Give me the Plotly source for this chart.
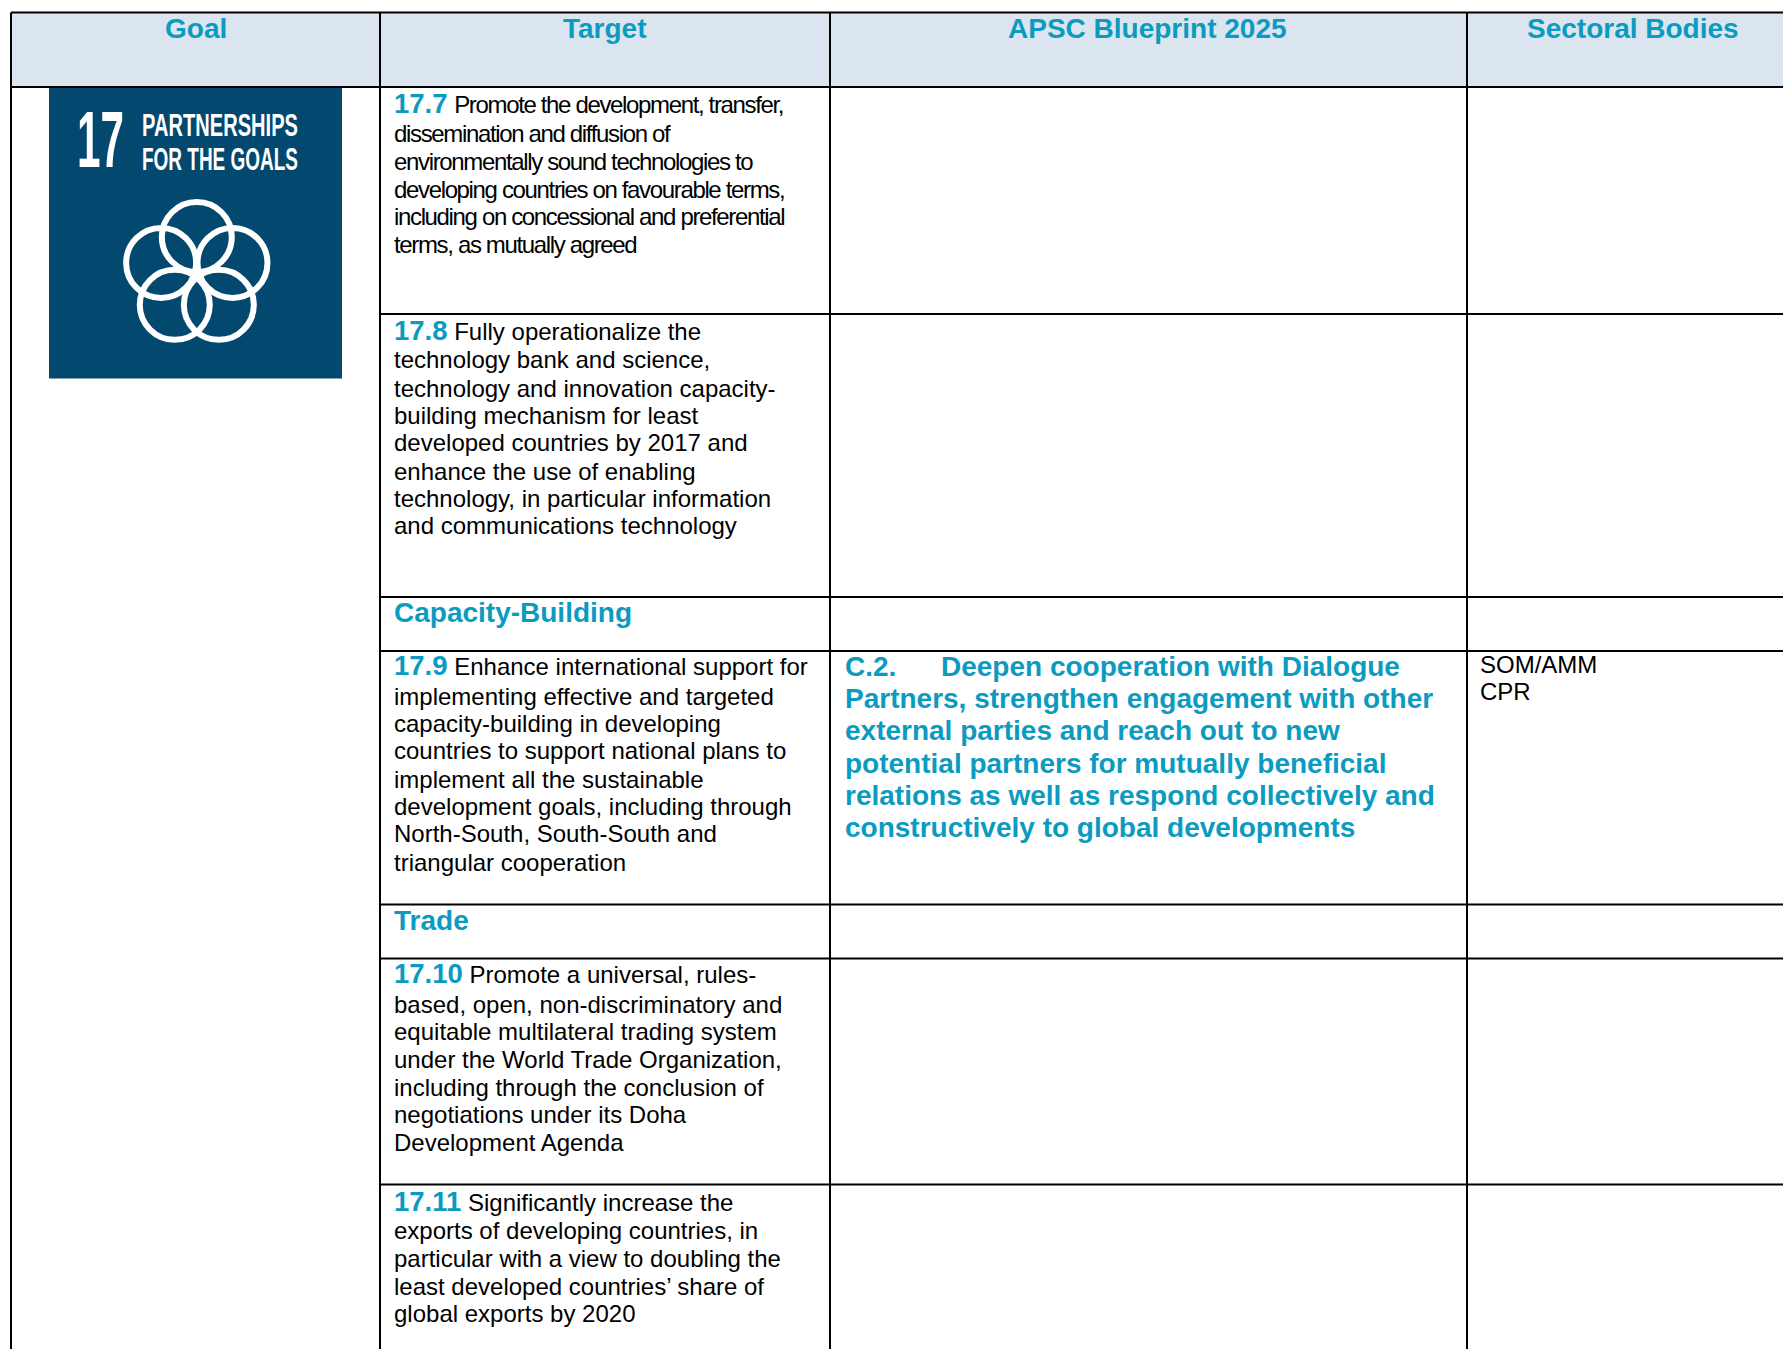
import math
import plotly.graph_objects as go

# ---------- content ----------
headers = ["Goal", "Target", "APSC Blueprint 2025", "Sectoral Bodies"]
target_17_7 = ["Promote the development, transfer,", "dissemination and diffusion of",
               "environmentally sound technologies to", "developing countries on favourable terms,",
               "including on concessional and preferential", "terms, as mutually agreed"]
target_17_8 = ["Fully operationalize the", "technology bank and science,",
               "technology and innovation capacity-", "building mechanism for least",
               "developed countries by 2017 and", "enhance the use of enabling",
               "technology, in particular information", "and communications technology"]
target_17_9 = ["Enhance international support for", "implementing effective and targeted",
               "capacity-building in developing", "countries to support national plans to",
               "implement all the sustainable", "development goals, including through",
               "North-South, South-South and", "triangular cooperation"]
target_17_10 = ["Promote a universal, rules-", "based, open, non-discriminatory and",
                "equitable multilateral trading system", "under the World Trade Organization,",
                "including through the conclusion of", "negotiations under its Doha",
                "Development Agenda"]
target_17_11 = ["Significantly increase the", "exports of developing countries, in",
                "particular with a view to doubling the", "least developed countries\u2019 share of",
                "global exports by 2020"]
blueprint_c2 = ["Deepen cooperation with Dialogue", "Partners, strengthen engagement with other",
                "external parties and reach out to new", "potential partners for mutually beneficial",
                "relations as well as respond collectively and", "constructively to global developments"]
sectoral = ["SOM/AMM", "CPR"]

# ---------- layout (pixels of the page) ----------
W, H = 1783, 1349
TEAL, BLACK, HEAD, NAVY = "#0b9bc0", "#000000", "#dae5f0", "#03486f"
FONT = "Liberation Sans"
col_x = [11, 380, 830, 1467, W]
row_y = [12.5, 87, 314, 597, 651, 904.5, 958.5, 1184.5, H]
TX = 394
BODY = 24
UP = 1.0

fig = go.Figure(go.Scatter(x=[None], y=[None], hoverinfo="skip", showlegend=False))
shapes, ann = [], []


def text(x, y, s, size=BODY, color=BLACK, anchor="left", bold=False, family=FONT):
    ann.append(dict(x=x, y=y - UP, xref="x", yref="y", text=f"<b>{s}</b>" if bold else s,
                    showarrow=False, xanchor=anchor, yanchor="middle", align="left",
                    borderpad=0, borderwidth=0,
                    font=dict(family=family, size=size, color=color)))


def lab(num):
    return f'<b><span style="color:{TEAL};font-size:27.5px">{num}</span></b> '


def block(num, lines, ys, spacing=None):
    for i, (ln, y) in enumerate(zip(lines, ys)):
        s = ln if spacing is None else f'<span style="letter-spacing:{spacing}px">{ln}</span>'
        text(TX, y - 1 if i == 0 else y, (lab(num) + s) if i == 0 else s)


# header band
shapes.append(dict(type="rect", x0=col_x[0], x1=W, y0=row_y[0], y1=row_y[1],
                   fillcolor=HEAD, line_width=0, layer="below", xref="x", yref="y"))
# icon
shapes.append(dict(type="rect", x0=49, x1=342, y0=row_y[1], y1=378.5,
                   fillcolor=NAVY, line_width=0, layer="below", xref="x", yref="y"))
cx, cy, dist, rad = 196.8, 274.5, 37.5, 35
for k in range(5):
    a = math.radians(-90 + 72 * k)
    px, py = cx + dist * math.cos(a), cy + dist * math.sin(a)
    shapes.append(dict(type="circle", x0=px - rad, x1=px + rad, y0=py - rad, y1=py + rad,
                       line=dict(color="white", width=6), fillcolor="rgba(0,0,0,0)",
                       xref="x", yref="y"))
text(76.5, 140, "17", size=80, color="white", bold=True)
text(141.5, 125.5, "PARTNERSHIPS", size=32, color="white", bold=True)
text(141.5, 159.5, "FOR THE GOALS", size=32, color="white", bold=True)

# grid
LW = 2
for x in col_x[:-1]:
    shapes.append(dict(type="line", x0=x, x1=x, y0=row_y[0], y1=H, xref="x", yref="y",
                       line=dict(color=BLACK, width=LW)))
for y in row_y[:2]:
    shapes.append(dict(type="line", x0=col_x[0], x1=W, y0=y, y1=y, xref="x", yref="y",
                       line=dict(color=BLACK, width=LW)))
for y in row_y[2:-1]:
    shapes.append(dict(type="line", x0=col_x[1], x1=W, y0=y, y1=y, xref="x", yref="y",
                       line=dict(color=BLACK, width=LW)))

# headers
for h, x in zip(headers, [195.6, 605, 1147.5, 1633]):
    text(x, 29.5, h, size=28, color=TEAL, anchor="center", bold=True)

# targets
block("17.7", target_17_7, [105, 134.5, 162.7, 190, 217, 245], spacing=-1.35)
block("17.8", target_17_8, [332, 360.5, 389, 416, 443.5, 472, 499, 526.5])
text(TX, 613, "Capacity-Building", size=28, color=TEAL, bold=True)
block("17.9", target_17_9, [667.5, 697, 724, 751.6, 780, 807, 834.6, 863])
text(TX, 921, "Trade", size=28, color=TEAL, bold=True)
block("17.10", target_17_10, [975.6, 1005, 1032.5, 1060, 1088, 1115.5, 1143])
block("17.11", target_17_11, [1203, 1231.5, 1259, 1287, 1314.5])

# blueprint column
text(845, 667.5, "C.2.", size=28, color=TEAL, bold=True)
for i, (ln, y) in enumerate(zip(blueprint_c2, [667.5, 699, 731, 764, 796, 828])):
    text(940.5 if i == 0 else 845, y, ln, size=28, color=TEAL, bold=True)

# sectoral column
for ln, y in zip(sectoral, [665, 692.5]):
    text(1480, y, ln)

fig.update_layout(
    width=W, height=H, margin=dict(l=0, r=0, t=0, b=0), paper_bgcolor="white", plot_bgcolor="white",
    xaxis=dict(range=[0, W], visible=False, fixedrange=True),
    yaxis=dict(range=[H, 0], visible=False, fixedrange=True),
    shapes=shapes, annotations=ann, showlegend=False,
)

# The icon lettering is a condensed face that is not installed: squeeze the real text to its width.
post = """
document.body.style.margin = '0';
var squeeze = {'17': 47, 'PARTNERSHIPS': 156, 'FOR THE GOALS': 156};
document.querySelectorAll('text.annotation-text').forEach(function (t) {
  var w = squeeze[t.textContent];
  if (w) {
    t.style.transformBox = 'fill-box';
    t.style.transformOrigin = 'left center';
    t.style.transform = 'scaleX(' + (w / t.getBBox().width) + ')';
  }
});
"""
fig.write_html("out.html", post_script=post, config={"displayModeBar": False})
